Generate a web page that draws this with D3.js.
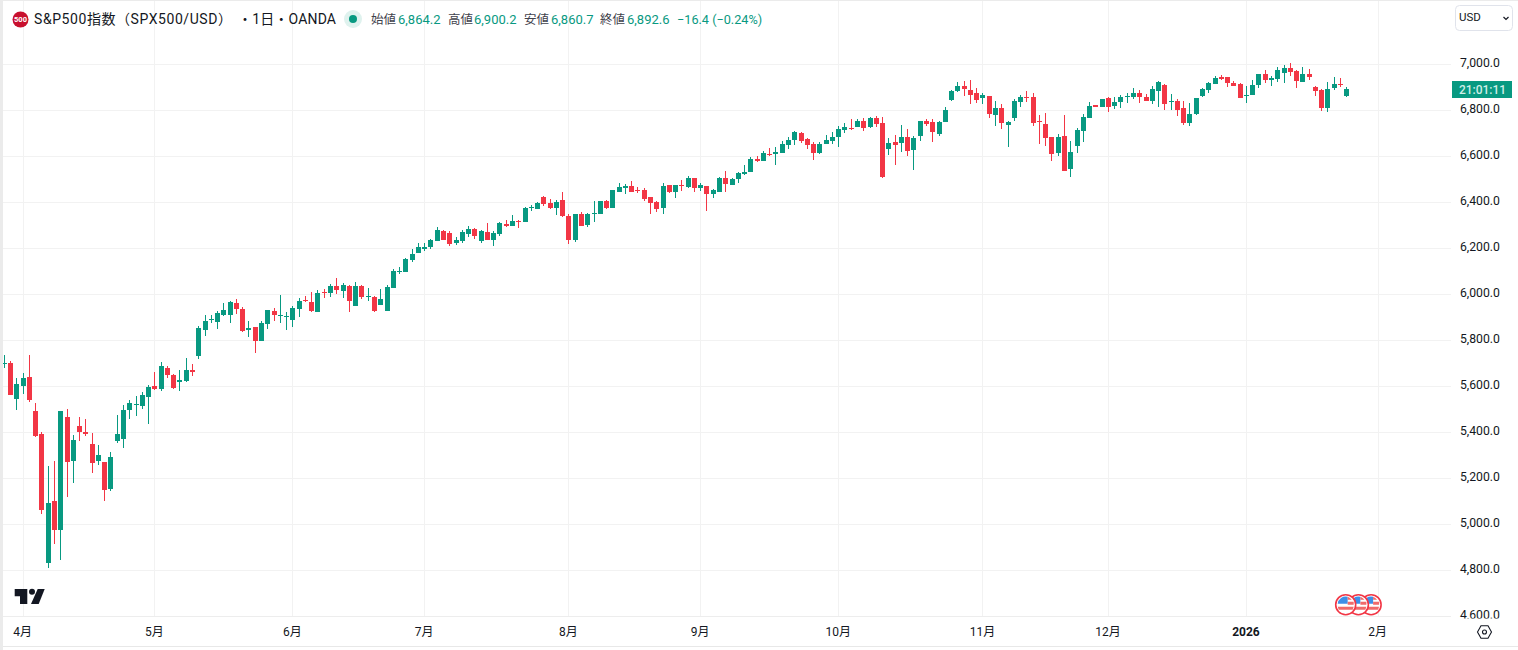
<!DOCTYPE html>
<html lang="ja"><head><meta charset="utf-8">
<script src="https://cdnjs.cloudflare.com/ajax/libs/d3/7.8.5/d3.min.js"></script>
<style>
html,body{margin:0;padding:0;background:#ebebeb;overflow:hidden}
svg{display:block}
text{font-family:Roboto,"Noto Sans CJK JP",sans-serif}
</style></head><body><svg id="c" width="1518" height="650"></svg>
<script>
const opens=[5699,5701,5545,5601,5641,5493,5393,4832,5102,4975,5467,5275,5428,5401,5349,5275,5271,5154,5362,5371,5497,5521,5514,5554,5601,5588,5680,5649,5619,5623,5671,5732,5845,5890,5880,5910,5910,5962,5936,5845,5858,5797,5871,5928,5908,5903,5888,5936,5976,5967,5923,6010,6006,6036,6014,6036,5949,6036,5990,5988,5954,5928,6027,6099,6097,6149,6180,6197,6206,6232,6275,6267,6223,6232,6262,6284,6232,6271,6236,6262,6306,6297,6318,6314,6377,6371,6423,6397,6375,6410,6341,6236,6349,6301,6351,6349,6406,6375,6445,6462,6471,6453,6454,6423,6401,6375,6475,6445,6475,6467,6506,6462,6471,6436,6445,6506,6475,6501,6523,6532,6588,6580,6613,6610,6614,6649,6671,6701,6675,6654,6614,6654,6667,6684,6714,6723,6728,6754,6728,6767,6745,6632,6662,6658,6684,6628,6688,6754,6749,6697,6749,6845,6884,6906,6888,6875,6854,6862,6780,6810,6736,6767,6836,6858,6858,6753,6741,6684,6614,6688,6545,6645,6710,6767,6823,6814,6854,6819,6836,6860,6858,6875,6858,6841,6884,6910,6838,6841,6810,6745,6784,6862,6888,6915,6945,6945,6919,6915,6864,6867,6910,6958,6932,6936,6962,6984,6971,6923,6958,6901,6888,6810,6897,6914,6864.2];
const highs=[5736,5710,5636,5658,5736,5528,5401,5254,5275,5493,5501,5388,5467,5458,5397,5345,5271,5315,5475,5519,5541,5558,5575,5606,5662,5706,5688,5654,5671,5723,5697,5862,5910,5910,5928,5962,5971,5980,5945,5884,5858,5884,5932,5941,5997,5923,5949,5984,5993,6010,6019,6023,6045,6071,6049,6041,6054,6041,6027,5993,6023,6041,6110,6119,6158,6197,6223,6223,6241,6294,6280,6275,6249,6280,6297,6288,6280,6310,6275,6314,6323,6345,6323,6380,6388,6401,6428,6414,6410,6445,6349,6349,6358,6354,6406,6406,6410,6454,6484,6480,6493,6467,6462,6423,6406,6484,6475,6475,6497,6515,6506,6484,6471,6458,6510,6536,6506,6532,6562,6597,6601,6623,6636,6641,6667,6684,6710,6706,6680,6662,6662,6693,6706,6732,6745,6762,6762,6767,6771,6775,6771,6680,6693,6736,6719,6688,6754,6762,6762,6754,6814,6888,6923,6928,6932,6897,6875,6862,6841,6828,6754,6849,6867,6884,6875,6780,6788,6684,6697,6780,6667,6723,6784,6836,6823,6849,6858,6858,6867,6875,6897,6888,6871,6906,6928,6914,6871,6849,6841,6832,6854,6897,6923,6949,6954,6945,6928,6919,6906,6932,6958,6975,6949,6988,6997,7006,6975,6988,6980,6906,6893,6923,6945,6941,6900.2];
const lows=[5681,5562,5497,5567,5532,5380,5045,4810,4915,4845,5119,5180,5362,5384,5223,5258,5102,5145,5354,5332,5458,5471,5501,5436,5584,5580,5636,5588,5580,5619,5645,5719,5819,5875,5849,5906,5875,5914,5836,5814,5745,5797,5849,5884,5875,5845,5858,5901,5967,5923,5923,5984,5988,6001,5984,5923,5949,5980,5971,5923,5954,5928,6027,6088,6097,6140,6180,6190,6197,6232,6236,6210,6215,6223,6249,6241,6223,6236,6210,6254,6293,6297,6288,6314,6362,6371,6384,6371,6345,6336,6219,6228,6297,6293,6314,6349,6371,6375,6445,6436,6445,6441,6406,6349,6358,6349,6441,6419,6449,6462,6445,6449,6362,6419,6445,6445,6475,6484,6519,6532,6575,6580,6601,6562,6614,6632,6649,6658,6632,6584,6610,6654,6654,6641,6701,6714,6728,6710,6723,6728,6506,6606,6562,6619,6601,6541,6667,6732,6662,6688,6749,6841,6880,6862,6828,6832,6828,6767,6732,6719,6641,6754,6814,6836,6732,6654,6645,6580,6601,6536,6510,6615,6662,6767,6814,6814,6793,6806,6810,6832,6849,6832,6841,6828,6815,6801,6801,6775,6736,6732,6780,6858,6875,6915,6932,6901,6906,6854,6832,6867,6897,6919,6906,6923,6919,6949,6897,6923,6932,6862,6797,6793,6888,6901,6860.7];
const closes=[5701,5562,5610,5636,5541,5384,5062,5093,4975,5493,5271,5367,5401,5393,5267,5301,5149,5293,5393,5497,5528,5523,5562,5597,5588,5688,5649,5593,5628,5671,5662,5854,5884,5892,5919,5932,5967,5936,5841,5854,5797,5875,5932,5910,5910,5905,5941,5971,5974,5928,6006,6008,6036,6019,6041,5971,6036,5988,5992,5928,5980,6032,6101,6101,6154,6175,6206,6205,6236,6280,6236,6219,6236,6271,6284,6254,6275,6236,6267,6310,6297,6319,6316,6375,6379,6397,6393,6375,6401,6341,6236,6349,6297,6349,6353,6406,6375,6454,6467,6471,6445,6451,6414,6397,6371,6471,6445,6475,6473,6506,6462,6475,6436,6454,6506,6480,6501,6528,6532,6588,6580,6614,6611,6619,6654,6671,6706,6667,6649,6614,6654,6671,6684,6719,6728,6721,6754,6723,6767,6741,6510,6658,6649,6684,6623,6680,6754,6741,6706,6749,6801,6884,6906,6893,6867,6845,6867,6784,6810,6745,6749,6841,6858,6856,6745,6751,6680,6610,6684,6536,6619,6714,6771,6819,6814,6849,6814,6836,6858,6862,6875,6858,6841,6893,6923,6828,6840,6801,6745,6784,6854,6893,6919,6941,6936,6919,6906,6854,6866,6910,6958,6932,6941,6975,6984,6967,6928,6958,6945,6884,6810,6893,6915,6912,6892.6];

const priceTicks=[4600,4800,5000,5200,5400,5600,5800,6000,6200,6400,6600,6800,7000];
const closedDays=["2025-04-18","2025-12-25","2026-01-01"];
const monthTicks=[["2025-04-01","4月"],["2025-05-01","5月"],["2025-06-02","6月"],["2025-07-01","7月"],["2025-08-01","8月"],["2025-09-01","9月"],["2025-10-01","10月"],["2025-11-03","11月"],["2025-12-01","12月"],["2026-01-02","2026"],["2026-02-02","2月"]];
const fmtDay=d3.utcFormat("%Y-%m-%d");
const sessions=d3.utcDay.range(new Date(Date.UTC(2025,2,27)),new Date(Date.UTC(2026,1,3)))
  .filter(d=>d.getUTCDay()%6!==0&&!closedDays.includes(fmtDay(d))).map(fmtDay);
const legendItems=[["始値","6,864.2",371,398],["高値","6,900.2",448,474],["安値","6,860.7",524,551],["終値","6,892.6",600,627]];
const GREEN="#089981",RED="#F23645",INK="#131722",GRID="#f2f2f2";
const W=1518,H=650,plotL=3,plotR=1451,plotT=1,plotB=616.5,panelB=646;

const svg=d3.select("#c");
svg.append("rect").attr("x",plotL).attr("y",plotT).attr("width",W-plotL).attr("height",H-plotT).attr("fill","#fff");
const defs=svg.append("defs");
defs.append("clipPath").attr("id","plot").append("rect").attr("x",plotL).attr("y",plotT).attr("width",plotR-plotL).attr("height",plotB-plotT);
defs.append("clipPath").attr("id","pax").append("rect").attr("x",plotR).attr("y",plotT).attr("width",W-plotR).attr("height",618.5-plotT);

const x=d3.scaleLinear().domain([0,219]).range([4.35,4.35+219*6.273]);
const y=d3.scaleLinear().domain([4600,7000]).range([plotB,64.5]);
const px=i=>Math.floor(x(i));
const tickIdx=monthTicks.map(m=>sessions.indexOf(m[0]));

// grid
const grid=svg.append("g").attr("shape-rendering","crispEdges").attr("stroke",GRID);
grid.selectAll(".h").data(priceTicks).join("line").attr("x1",plotL).attr("x2",plotR).attr("y1",d=>y(d)).attr("y2",d=>y(d));
grid.selectAll(".v").data(tickIdx).join("line").attr("x1",d=>px(d)+.5).attr("x2",d=>px(d)+.5).attr("y1",plotT).attr("y2",plotB);
svg.append("line").attr("x1",plotL).attr("x2",plotR).attr("y1",plotB).attr("y2",plotB).attr("stroke","#ededed");
svg.append("rect").attr("x",plotL).attr("y",panelB).attr("width",W-plotL).attr("height",1).attr("fill","#e8e8e8");

// candles
const candles=svg.append("g").attr("clip-path","url(#plot)").attr("shape-rendering","crispEdges");
const g=candles.selectAll("g").data(d3.range(opens.length)).join("g").attr("fill",i=>closes[i]>=opens[i]?GREEN:RED);
g.append("rect").attr("x",i=>px(i)).attr("width",1)
 .attr("y",i=>Math.round(y(highs[i]))).attr("height",i=>Math.max(1,Math.round(y(lows[i]))-Math.round(y(highs[i]))));
g.append("rect").attr("x",i=>px(i)-2).attr("width",5)
 .attr("y",i=>Math.round(y(Math.max(opens[i],closes[i]))))
 .attr("height",i=>Math.max(1,Math.round(y(Math.min(opens[i],closes[i])))-Math.round(y(Math.max(opens[i],closes[i])))));

// price axis
const yAxis=svg.append("g").attr("clip-path","url(#pax)").append("g").attr("transform",`translate(${plotR},0)`)
 .call(d3.axisRight(y).tickValues(priceTicks).tickFormat(d3.format(",.1f")).tickSize(0).tickPadding(9));
yAxis.select(".domain").remove();
yAxis.attr("font-family",null);
yAxis.selectAll("text").attr("font-size",12.2).attr("fill",INK).attr("dy","0.16em");

// time axis
const xAxis=svg.append("g").attr("transform",`translate(0,${plotB})`)
 .call(d3.axisBottom(x).tickValues(tickIdx).tickFormat((d,i)=>monthTicks[i][1]).tickSize(0).tickPadding(11));
xAxis.select(".domain").remove();
xAxis.attr("font-family",null);
xAxis.selectAll("text").attr("font-size",12).attr("fill",INK).attr("dx",-1).attr("font-weight",(d,i)=>monthTicks[i][1]==="2026"?700:400);

// last price label
const lastY=y(closes[closes.length-1]);
svg.append("rect").attr("x",1452).attr("y",Math.round(lastY)-8).attr("width",60).attr("height",17).attr("fill",GREEN);
svg.append("text").attr("x",1482.5).attr("y",Math.round(lastY)+4.5).attr("text-anchor","middle").attr("font-size",12).attr("font-weight",500).attr("fill","#cfeee7").text("21:01:11");

// currency button
svg.append("rect").attr("x",1455.5).attr("y",5.5).attr("width",57).attr("height",25).attr("rx",4).attr("fill","#fff").attr("stroke","#e0e3eb");
svg.append("text").attr("x",1459).attr("y",21).attr("font-size",11.5).attr("fill",INK).text("USD");
svg.append("path").attr("d","M1503.5 17l2.5 2.5 2.5-2.5").attr("fill","none").attr("stroke",INK).attr("stroke-width",1.2);

// header
svg.append("circle").attr("cx",20.5).attr("cy",19.5).attr("r",8).attr("fill","#c8102e");
svg.append("text").attr("x",20.5).attr("y",22.2).attr("text-anchor","middle").attr("font-size",7.5).attr("font-weight",700).attr("fill","#fff").text("500");
svg.append("text").attr("x",34).attr("y",24).attr("font-size",14).attr("fill",INK).attr("textLength",198).attr("lengthAdjust","spacing").text("S&P500指数（SPX500/USD）");
svg.append("text").attr("x",238).attr("y",24).attr("font-size",14).attr("fill",INK).attr("textLength",98).attr("lengthAdjust","spacing").text("・1日・OANDA");
svg.append("circle").attr("cx",353).attr("cy",19).attr("r",9).attr("fill","#dff2ee");
svg.append("circle").attr("cx",353).attr("cy",19).attr("r",4).attr("fill",GREEN);
const leg=svg.append("g").attr("font-size",12.5);
legendItems.forEach(d=>{
  leg.append("text").attr("x",d[2]).attr("y",23.5).attr("fill","#3f424c").text(d[0]);
  leg.append("text").attr("x",d[3]).attr("y",23.5).attr("font-size",13).attr("fill",GREEN).text(d[1]);
});
leg.append("text").attr("x",677).attr("y",23.5).attr("font-size",12.7).attr("fill",GREEN).text("−16.4 (−0.24%)");

// TradingView mark
const logo=svg.append("g").attr("fill","#131722");
logo.append("path").attr("d","M14.7 589H27.3V604H20V596.3H14.7Z");
logo.append("circle").attr("cx",32).attr("cy",591.7).attr("r",3);
logo.append("path").attr("d","M37.7 589H44.7L38.7 604H31Z");

// event flags
[2,1,0].forEach(k=>{
  const cx=1345.7+k*12.7,cy=604.7;
  const f=svg.append("g");
  f.append("circle").attr("cx",cx).attr("cy",cy).attr("r",10).attr("fill","#fff").attr("stroke",RED).attr("stroke-width",1.6);
  f.append("path").attr("d",`M${cx-8} ${cy-1}A8 8 0 0 1 ${cx+2} ${cy-8}V${cy-1}Z`).attr("fill","#3d8fe8");
  f.append("path").attr("d",`M${cx+2} ${cy-8}A8 8 0 0 1 ${cx+6} ${cy-5}H${cx+2}Z M${cx+2} ${cy-3}H${cx+8}V${cy}H${cx+2}Z M${cx-8} ${cy+2}H${cx+8}L${cx+7} ${cy+5}H${cx-7}Z`).attr("fill","#f06a6a");
});

// settings hexagon
svg.append("path").attr("d","M1477.5 632l3.5-6.2h7l3.5 6.2-3.5 6.2h-7z").attr("fill","none").attr("stroke",INK).attr("stroke-width",1.1);
svg.append("circle").attr("cx",1484.5).attr("cy",632).attr("r",2).attr("fill","none").attr("stroke",INK).attr("stroke-width",1.1);
</script></body></html>
